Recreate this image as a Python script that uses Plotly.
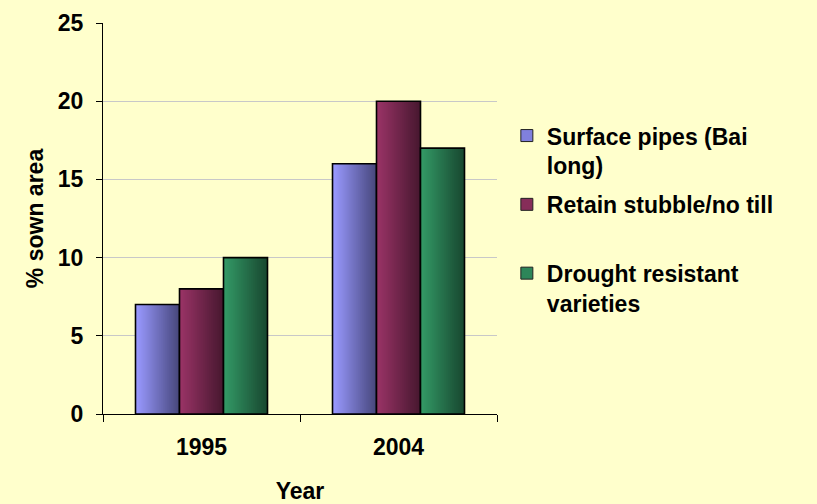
import plotly.graph_objects as go

years = ["1995", "2004"]
series_names = ["Surface pipes (Bai<br>long)", "Retain stubble/no till<br> ", "Drought resistant<br>varieties"]
surface_pipes = [7, 16]
retain_stubble = [8, 20]
drought_resistant = [10, 17]
series_values = [surface_pipes, retain_stubble, drought_resistant]

# gradient (left light -> right dark) per series
light_cols = [(153, 153, 255), (153, 51, 102), (51, 153, 102)]
dark_cols = [(72, 72, 125), (72, 24, 48), (24, 72, 48)]
legend_cols = ["#8080DD", "#862D59", "#2D8659"]

font_fam = "Liberation Sans, Arial, sans-serif"
FS = 23

group_w = 0.67
bar_w = group_w / 3
N = 22

fig = go.Figure()

for s, vals in enumerate(series_values):
    start = -group_w / 2 + s * bar_w
    step = bar_w / N
    for k in range(N):
        t = k / (N - 1)
        c = tuple(round(light_cols[s][i] + (dark_cols[s][i] - light_cols[s][i]) * t) for i in range(3))
        fig.add_trace(go.Bar(
            x=years, y=vals,
            offset=start + k * step, width=(N - k) * step,
            marker=dict(color="rgb(%d,%d,%d)" % c, line=dict(width=0)),
            showlegend=False, hoverinfo="skip",
        ))
    # outline
    fig.add_trace(go.Bar(
        x=years, y=vals, offset=start, width=bar_w,
        marker=dict(color="rgba(0,0,0,0)", line=dict(color="black", width=1.6)),
        showlegend=False, name=series_names[s].replace("<br>", " ").strip(),
    ))

for s in range(3):
    fig.add_trace(go.Bar(
        x=years, y=[None, None], name=series_names[s],
        marker=dict(color=legend_cols[s], line=dict(color="#222222", width=1)),
        showlegend=True, legendgroup="g%d" % s,
    ))

fig.update_layout(
    width=817, height=504,
    barmode="overlay",
    paper_bgcolor="#FFFFCC", plot_bgcolor="#FFFFCC",
    margin=dict(l=103, r=320, t=23, b=90),
    font=dict(family=font_fam, size=FS, color="black"),
    showlegend=True,
    legend=dict(
        x=1.025, y=0.767, xanchor="left", yanchor="top",
        bgcolor="rgba(0,0,0,0)", font=dict(family=font_fam, size=FS, color="black", weight="bold"),
        valign="top", tracegroupgap=6, itemwidth=30,
    ),
    xaxis=dict(
        type="category", showline=True, linecolor="black", linewidth=1,
        ticks="outside", ticklen=7, tickcolor="black", tickson="boundaries",
        showgrid=False, automargin=False,
        tickfont=dict(family=font_fam, size=FS, color="black", weight="bold"),
        ticklabelstandoff=12,
        title=dict(text="<b>Year</b>", font=dict(family=font_fam, size=FS, color="black"), standoff=27),
    ),
    yaxis=dict(
        range=[0, 25], dtick=5, showline=True, linecolor="black", linewidth=1,
        ticks="outside", ticklen=6, tickcolor="black",
        showgrid=True, gridcolor="#C8C8C8", gridwidth=1, zeroline=False, automargin=False,
        tickfont=dict(family=font_fam, size=FS, color="black", weight="bold"),
        ticklabelstandoff=8,
        title=dict(text="<b>% sown area</b>", font=dict(family=font_fam, size=FS, color="black"), standoff=7),
    ),
)

fig.write_html("out.html", config={"displayModeBar": False},
               post_script="document.body.style.margin='0';")
